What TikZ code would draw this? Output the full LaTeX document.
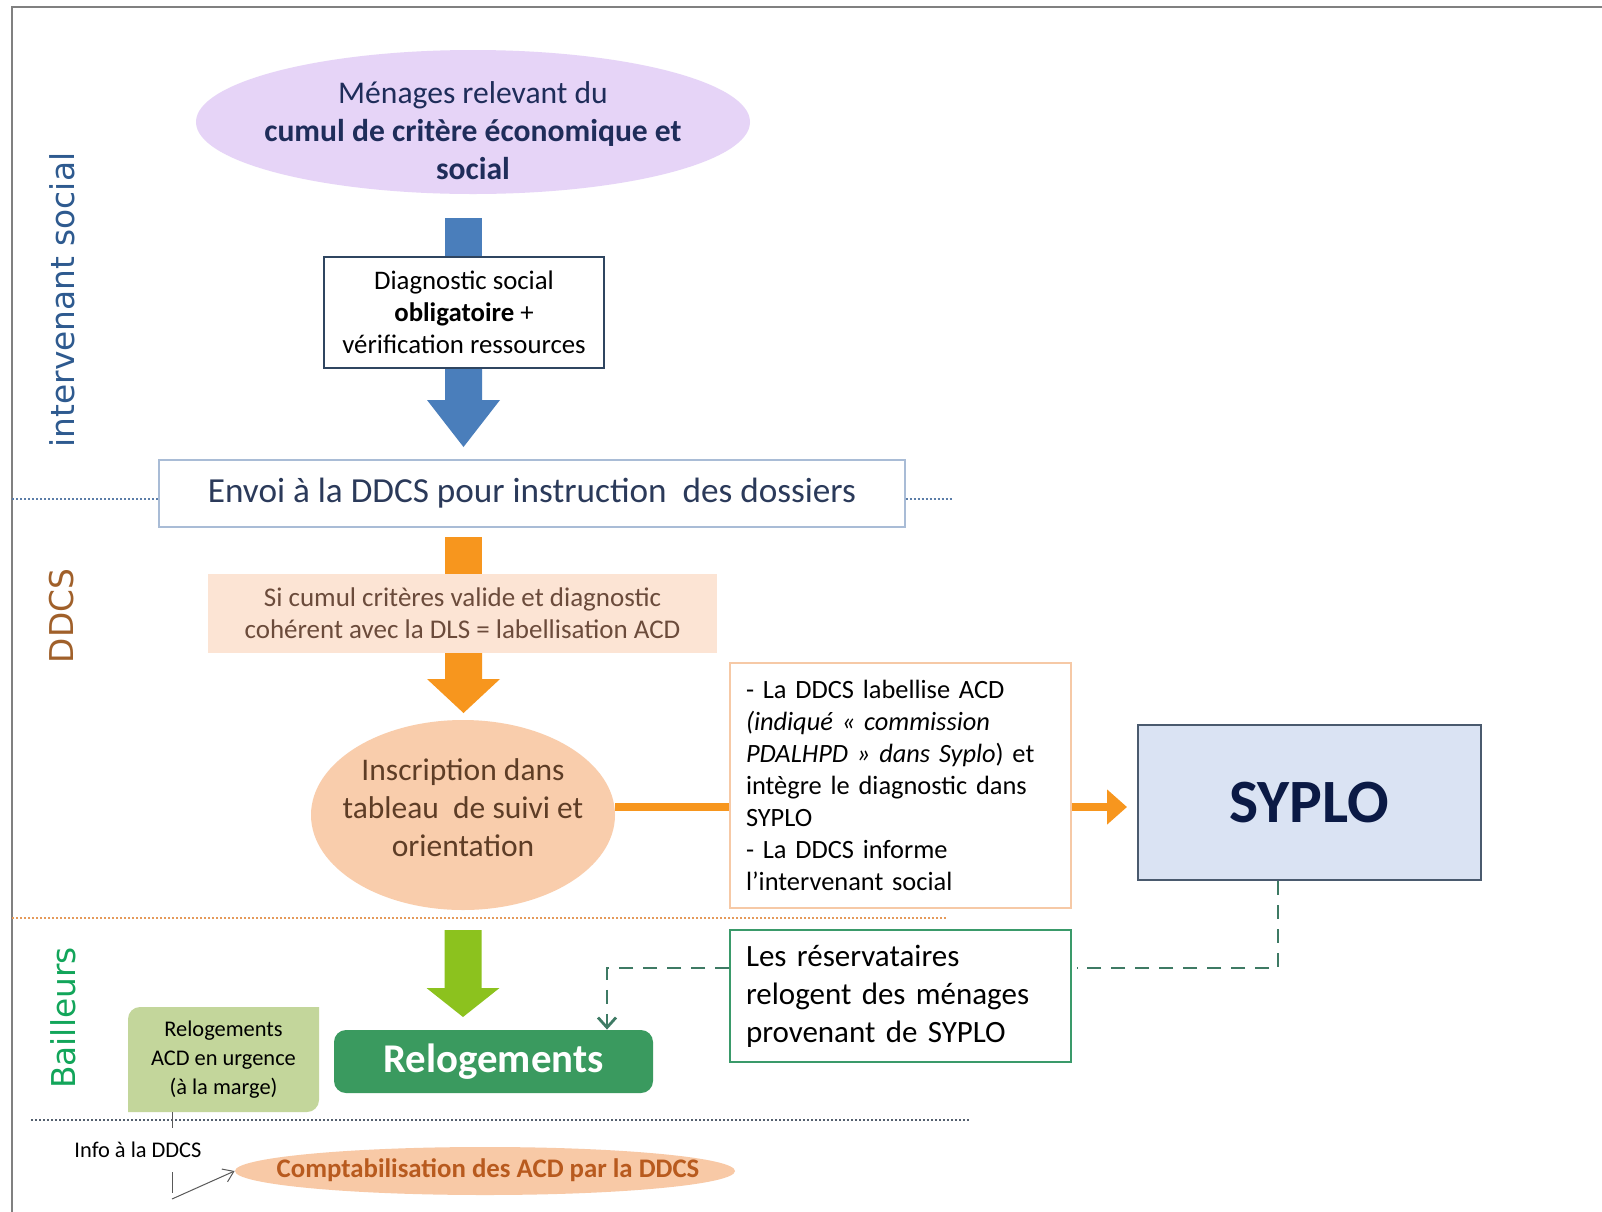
\documentclass[tikz,border=0pt]{standalone}
\usepackage{fontspec}
\setmainfont{Carlito}
\newfontfamily\dejavu{DejaVu Sans}
\usetikzlibrary{arrows.meta,calc,shapes.geometric}
\definecolor{navy}{HTML}{1F2D5A}
\definecolor{violetfill}{HTML}{E6D4F7}
\definecolor{bluearrow}{HTML}{4A7EBB}
\definecolor{diagborder}{HTML}{2F4560}
\definecolor{envborder}{HTML}{A9BCD6}
\definecolor{envtext}{HTML}{2B3A5A}
\definecolor{orangearrow}{HTML}{F7961E}
\definecolor{peachfill}{HTML}{FCE4D4}
\definecolor{peachtext}{HTML}{6B4B3B}
\definecolor{inscfill}{HTML}{F9CDAC}
\definecolor{insctext}{HTML}{5E3D26}
\definecolor{tbborder}{HTML}{F6C9A6}
\definecolor{syplofill}{HTML}{DAE3F3}
\definecolor{syploborder}{HTML}{4A5A6E}
\definecolor{syplotext}{HTML}{0B1A45}
\definecolor{greenarrow}{HTML}{8CC21E}
\definecolor{relogfill}{HTML}{3A9A5F}
\definecolor{acdfill}{HTML}{C3D69B}
\definecolor{gbborder}{HTML}{3A9A6A}
\definecolor{dashgreen}{HTML}{3E7A64}
\definecolor{compfill}{HTML}{F8C9A6}
\definecolor{comptext}{HTML}{B85A1E}
\definecolor{lanebl}{HTML}{2E5A8F}
\definecolor{lanebr}{HTML}{A0602A}
\definecolor{lanegr}{HTML}{12A55A}
\definecolor{dotblue}{HTML}{5B7DA8}
\definecolor{dotorange}{HTML}{E59A5A}
\definecolor{dotgrey}{HTML}{55606F}
\newcommand\myblockshaft[4]{\fill[#1] (#2-18.5,#3) rectangle (#2+18.5,#4);}
\newcommand\myblockarrow[5]{\fill[#1] (#2-18.5,#3) -- (#2+18.5,#3) -- (#2+18.5,#4) -- (#2+36.5,#4) -- (#2,#5) -- (#2-36.5,#4) -- (#2-18.5,#4) -- cycle;}
\begin{document}
\begin{tikzpicture}[x=0.5pt,y=-0.5pt,
  lanelabel/.style={font=\dejavu\fontsize{16.4}{16}\selectfont, rotate=90, inner sep=0pt},
  ellshape/.style={ellipse, inner sep=0pt},
  dotline/.style={line width=0.6pt, dash pattern=on 1pt off 1pt},
  dashconn/.style={dashgreen, line width=1.4pt, dash pattern=on 7pt off 5pt},
  infoline/.style={draw=black!65, line width=0.5pt}
]
\useasboundingbox (0,0) rectangle (1602,1211);
\fill[white] (0,0) rectangle (1602,1211);
% frame
\draw[black!50, line width=1.2pt] (12,1215) -- (12,7) -- (1610,7);

% lane labels
\node[lanelabel, text=lanebl] (lane1) at (62,300) {intervenant social};
\node[lanelabel, text=lanebr] (lane2) at (62,616) {DDCS};
\node[lanelabel, text=lanegr] (lane3) at (63,1018) {Bailleurs};

% top ellipse
\node[ellshape, fill=violetfill, minimum width=277pt, minimum height=72pt] (top) at (473,122) {};
\node[align=center, text=navy, font=\fontsize{15.8}{19}\selectfont] (toptxt) at (473,131)
  {Ménages relevant du\\\textbf{cumul de critère économique et}\\\textbf{social}};

% blue arrow
\myblockshaft{bluearrow}{463.5}{218}{258}
\myblockarrow{bluearrow}{463.5}{367}{400}{447}
\node[draw=diagborder, line width=0.7pt, fill=white, minimum width=140pt, minimum height=55.5pt,
  align=center, font=\fontsize{13.4}{16}\selectfont] (diag) at (464,312.5)
  {Diagnostic social\\\textbf{obligatoire} +\\vérification ressources};

% envoi
\node[draw=envborder, line width=0.7pt, fill=white, minimum width=373pt, minimum height=33.5pt,
  text=envtext, font=\fontsize{17.6}{18}\selectfont] (env) at (532,493.5)
  {Envoi à la DDCS pour instruction\ \ des dossiers};
\coordinate (d1) at (12,499);
\coordinate (d2) at (952,499);
\draw[dotline, dotblue] (d1) -- (env.west |- d1);
\draw[dotline, dotblue] (env.east |- d2) -- (d2);

% orange arrow
\myblockshaft{orangearrow}{463.5}{537}{575}
\myblockarrow{orangearrow}{463.5}{651}{679}{713}
\node[fill=peachfill, minimum width=254.5pt, minimum height=39.5pt, align=center,
  text=peachtext, font=\fontsize{13.5}{16}\selectfont] (peach) at (462.5,613)
  {Si cumul critères valide et diagnostic\\cohérent avec la DLS = labellisation ACD};

% inscription ellipse
\node[ellshape, fill=inscfill, minimum width=152pt, minimum height=95pt] (insc) at (463,815) {};
\node[align=center, text=insctext, font=\fontsize{15.75}{19}\selectfont] (insctxt) at (463,808)
  {Inscription dans\\tableau\ \ de suivi et\\orientation};

% text box
\node[draw=tbborder, line width=0.6pt, fill=white, minimum width=170.5pt, minimum height=122.5pt,
  inner xsep=8pt, text width=154.5pt, align=left, font=\fontsize{13.2}{16}\selectfont] (tb) at (900.5,785.5)
  {- La DDCS labellise ACD\\\textit{(indiqué «~commission}\\\textit{PDALHPD~» dans Syplo}) et\\intègre le diagnostic dans\\SYPLO\\- La DDCS informe\\l’intervenant social};

% SYPLO
\node[draw=syploborder, line width=1pt, fill=syplofill, minimum width=171.5pt, minimum height=77.5pt,
  text=syplotext, font=\bfseries\fontsize{30.8}{30}\selectfont] (syplo) at (1309.5,802.5) {SYPLO};

\coordinate (oy) at (0,807);
\draw[orangearrow, line width=4pt] (insc.east |- oy) -- (tb.west |- oy);
\draw[orangearrow, line width=4pt, -{Triangle[length=10pt,width=17pt]}, shorten >=5pt] (tb.east |- oy) -- (syplo.west |- oy);

% orange dotted separator
\coordinate (o1) at (12,918);
\coordinate (o2) at (947,918);
\draw[dotline, dotorange] (o1) -- (o2);

% green arrow
\myblockarrow{greenarrow}{463}{930}{988}{1017}

% relogements
\node[fill=relogfill, rounded corners=6pt, minimum width=159.5pt, minimum height=31.5pt,
  text=white, font=\bfseries\fontsize{20.4}{20}\selectfont] (relog) at (493.5,1061.5) {Relogements};

% ACD box
\fill[acdfill] (128,1112) -- (128,1019) arc[start angle=180, end angle=90, radius=6pt] -- (319,1007) -- (319,1100) arc[start angle=0, end angle=-90, radius=6pt] -- cycle;
\node[minimum width=95.5pt, minimum height=52.5pt, align=center,
  font=\fontsize{11.2}{14.5}\selectfont] (acd) at (223.5,1059.5)
  {Relogements\\ACD en urgence\\(à la marge)};

% green box
\node[draw=gbborder, line width=0.9pt, fill=white, minimum width=170.5pt, minimum height=66pt,
  inner xsep=8pt, text width=154.5pt, align=left, font=\fontsize{15.5}{19}\selectfont] (gb) at (900.5,996)
  {Les réservataires\\relogent des ménages\\provenant de SYPLO};

% dashed connectors
\draw[dashconn] ([xshift=-15.75pt]syplo.south) |- ([yshift=14pt, xshift=2.5pt]gb.east);
\draw[dashconn, -{Straight Barb[length=5pt,width=9pt]}] ([yshift=14pt]gb.west) -| ([xshift=56.75pt]relog.north);

% bottom dotted separator
\coordinate (b1) at (31,1120);
\coordinate (b2) at (971,1120);
\draw[dotline, dotgrey] (b1) -- (b2);

% comptabilisation
\node[ellshape, fill=compfill, minimum width=250pt, minimum height=24pt] (comp) at (485,1171) {};
\node[text=comptext, font=\bfseries\fontsize{13.4}{13}\selectfont] (comptxt) at (488,1170)
  {Comptabilisation des ACD par la DDCS};

% info
\node[font=\fontsize{11.2}{11}\selectfont, inner sep=1pt] (info) at (138,1150) {Info à la DDCS};
\coordinate (l1) at (172,1112);
\coordinate (l2) at (172,1128);
\coordinate (l3) at (172,1172);
\coordinate (l4) at (172,1193);
\coordinate (l5) at (172,1199);
\draw[infoline] (l1) -- (l2);
\draw[infoline] (l3) -- (l4);
\draw[infoline, -{Straight Barb[length=5pt,width=7pt]}] (l5) -- (comp.west);
\end{tikzpicture}
\end{document}
